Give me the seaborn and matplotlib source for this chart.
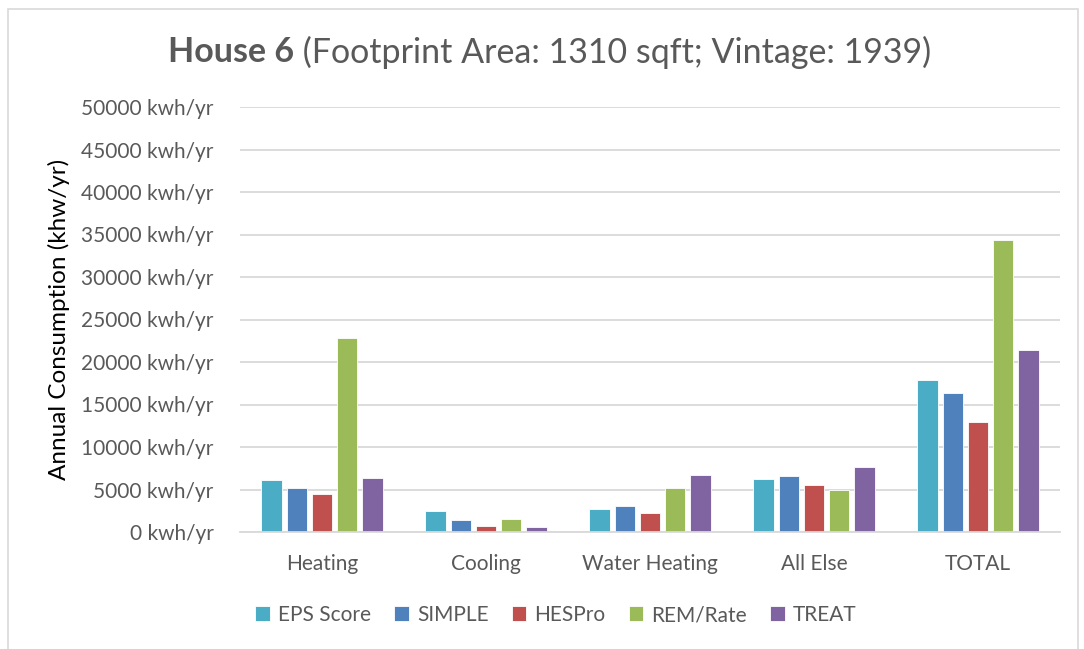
import pandas as pd
import matplotlib.pyplot as plt
import seaborn as sns
from matplotlib.patches import Rectangle

# Veriler
categories = ["Heating", "Cooling", "Water Heating", "All Else", "TOTAL"]
models = ["EPS Score", "SIMPLE", "HESPro", "REM/Rate", "TREAT"]
eps_score = [6100, 2450, 2700, 6250, 17900]
simple = [5200, 1450, 3100, 6550, 16400]
hespro = [4500, 650, 2250, 5500, 12900]
rem_rate = [22800, 1500, 5150, 4900, 34400]
treat = [6400, 570, 6750, 7600, 21400]
yticks = list(range(0, 50001, 5000))

colors = ["#4BACC6", "#4F81BD", "#C0504D", "#9BBB59", "#8064A2"]

rows = []
for name, vals in zip(models, [eps_score, simple, hespro, rem_rate, treat]):
    for cat, v in zip(categories, vals):
        rows.append({"Category": cat, "Model": name, "Value": v})
df = pd.DataFrame(rows)

sns.set_style("white")
plt.rcParams['font.family'] = ['Lato', 'DejaVu Sans']

fig = plt.figure(figsize=(10.84, 6.49), dpi=100)
ax = fig.add_axes([240 / 1084, 1 - 532 / 649, 820 / 1084, 425 / 649])

sns.barplot(data=df, x="Category", y="Value", hue="Model", order=categories,
            hue_order=models, palette=colors, width=0.77, gap=0.2,
            saturation=1, edgecolor="white", linewidth=0.6, ax=ax)

ax.set_ylim(0, 50000)
ax.set_xlim(-0.5, 4.5)
ax.set_yticks(yticks)
ax.set_yticklabels([f"{t} kwh/yr" for t in yticks])
ax.yaxis.grid(True, color="#D9D9D9", linewidth=1.3)
ax.set_axisbelow(True)
for s in ["top", "right", "left"]:
    ax.spines[s].set_visible(False)
ax.spines["bottom"].set_color("#D9D9D9")
ax.spines["bottom"].set_linewidth(1.3)
ax.tick_params(axis="y", length=0, pad=19, labelsize=15, labelcolor="#595959")
ax.tick_params(axis="x", length=0, pad=16, labelsize=15, labelcolor="#595959")
ax.set_xlabel("")
ax.set_ylabel("Annual Consumption (khw/yr)", fontsize=17.5, color="black")
ax.yaxis.set_label_coords(-170 / 820, 0.5)

sns.move_legend(ax, "center", bbox_to_anchor=(556 / 1084, 1 - 615 / 649),
                bbox_transform=fig.transFigure, ncol=5, frameon=False,
                title=None, fontsize=15, handlelength=0.7, handleheight=0.7,
                columnspacing=1.1, handletextpad=0.4)
for t in ax.get_legend().get_texts():
    t.set_color("#595959")

# Başlık
fig.text(294 / 1084, 1 - 52 / 649, "House 6", ha="right", va="center",
         fontsize=24.5, fontweight="bold", color="#595959")
fig.text(294 / 1084, 1 - 52 / 649, " (Footprint Area: 1310 sqft; Vintage: 1939)",
         ha="left", va="center", fontsize=24.5, color="#595959")

# Grafik çerçevesi
fig.patches.append(Rectangle((8 / 1084, -0.05), 1070 / 1084, 1 - 9 / 649 + 0.05,
                             transform=fig.transFigure, fill=False,
                             edgecolor="#D9D9D9", linewidth=1.2))

plt.savefig("out.png", dpi=100)
